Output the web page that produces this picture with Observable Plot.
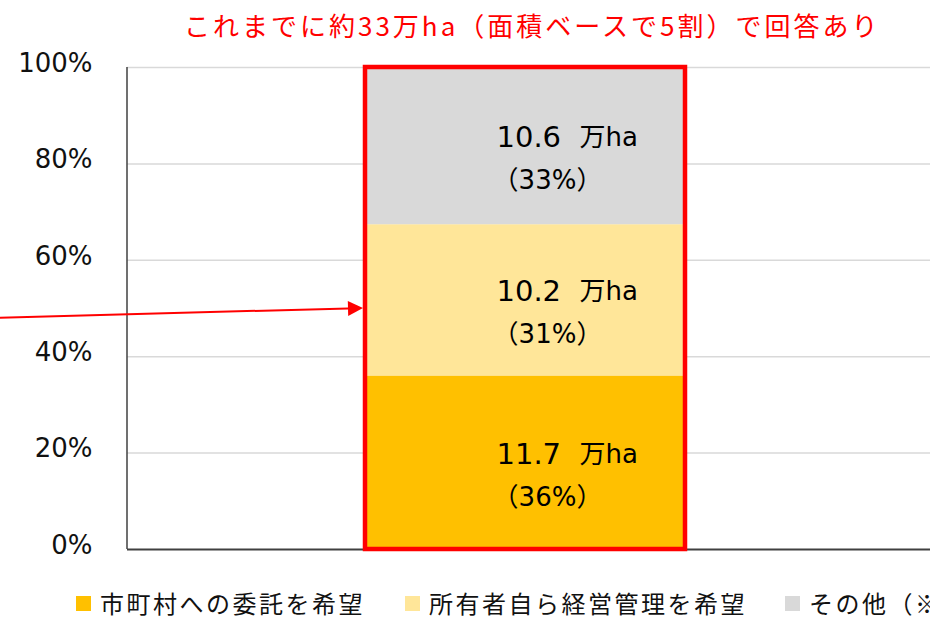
<!DOCTYPE html>
<html>
<head>
<meta charset="utf-8">
<script src="https://cdn.jsdelivr.net/npm/d3@7"></script>
<script src="https://cdn.jsdelivr.net/npm/@observablehq/plot@0.6"></script>
<style>
  html, body { margin: 0; padding: 0; background: #fff; }
  body { width: 930px; height: 621px; overflow: hidden; position: relative; }
  #title { position: absolute; left: 184px; top: 12px; font: 26px/1 "Noto Sans CJK JP", sans-serif; color: #FF0000; letter-spacing: 3px; white-space: nowrap; }
  #chart { position: absolute; left: 0; top: 0; }
  #legend { position: absolute; left: 0; top: 591px; width: 930px; height: 26px; white-space: nowrap; }
  .item { position: absolute; top: 0; font: 24px/1 "Noto Sans CJK JP", sans-serif; color: #111; letter-spacing: 2.5px; }
  .sw { position: absolute; top: 5px; width: 15px; height: 15px; }
  .item span.t { position: absolute; left: 24px; top: 0; }
</style>
</head>
<body>
<div id="title"></div>
<div id="chart"></div>
<div id="legend"></div>
<script>
// ---- data ----
const titleText = "これまでに約33万ha（面積ベースで5割）で回答あり";
const categories = ["市町村への委託を希望", "所有者自ら経営管理を希望", "その他（※）"];
const areas = [11.7, 10.2, 10.6];          // 万ha
const shares = ["36%", "31%", "33%"];
const colors = ["#FFC000", "#FFE699", "#D9D9D9"];
const barName = ["回答"];
const unitLabel = "万ha";
const yTicks = [0, 0.2, 0.4, 0.6, 0.8, 1];
const arrowY = [0.48, 0.5];               // arrow start / tip (share of total)
const legendLeft = [76, 405, 785];

const rows = categories.map((c, i) => ({bar: barName[0], cat: c, area: areas[i], share: shares[i]}));

document.getElementById("title").textContent = titleText;

const font = "'DejaVu Sans', 'Noto Sans CJK JP', sans-serif";

function annotations(index, scales, values, dimensions) {
  const g = d3.create("svg:g");
  const y = scales.y, x = scales.x;
  // left axis line
  g.append("line")
    .attr("x1", dimensions.marginLeft).attr("x2", dimensions.marginLeft)
    .attr("y1", y(1)).attr("y2", y(0))
    .attr("stroke", "#404040").attr("stroke-width", 1.5);
  // arrow
  const x0 = 0, y0 = y(arrowY[0]);
  const xt = x(barName[0]) - 2, yt = y(arrowY[1]);
  const ang = Math.atan2(yt - y0, xt - x0);
  const L = 15, W = 7.5;
  const bx = xt - L * Math.cos(ang), by = yt - L * Math.sin(ang);
  g.append("line").attr("x1", x0).attr("y1", y0).attr("x2", bx).attr("y2", by)
    .attr("stroke", "#FF0000").attr("stroke-width", 2);
  const px = -Math.sin(ang) * W, py = Math.cos(ang) * W;
  g.append("polygon")
    .attr("points", `${xt},${yt} ${bx + px},${by + py} ${bx - px},${by - py}`)
    .attr("fill", "#FF0000");
  return g.node();
}

const plot = Plot.plot({
  width: 930,
  height: 580,
  marginLeft: 127,
  marginRight: 0,
  marginTop: 67,
  marginBottom: 31,
  style: {fontFamily: font, background: "transparent"},
  x: {domain: barName, range: [127, 924], padding: 0.426, axis: null},
  y: {domain: [0, 1], axis: null},
  color: {domain: categories, range: colors},
  marks: [
    Plot.ruleY(yTicks.slice(1), {stroke: "#D9D9D9", strokeWidth: 1.5}),
    Plot.axisY({ticks: yTicks, tickFormat: d3.format(".0%"), tickSize: 0, tickPadding: 35,
      fontSize: 26, fill: "#111", dy: -4, label: null}),
    Plot.barY(rows, {x: "bar", y: "area", fill: "cat", offset: "normalize"}),
    Plot.ruleY([0], {stroke: "#404040", strokeWidth: 2}),
    Plot.barY(barName, {x: d => d, y: () => 1, fill: "none", stroke: "#FF0000", strokeWidth: 4.5}),
    Plot.text(rows, Plot.stackY({x: "bar", y: "area", offset: "normalize",
      text: d => d.area.toFixed(1), textAnchor: "start", lineAnchor: "bottom",
      dx: -29, dy: 1, fontSize: 29, fill: "#000"})),
    Plot.text(rows, Plot.stackY({x: "bar", y: "area", offset: "normalize",
      text: () => unitLabel, textAnchor: "start", lineAnchor: "bottom",
      dx: 54, dy: 0, fontSize: 26, fill: "#000"})),
    Plot.text(rows, Plot.stackY({x: "bar", y: "area", offset: "normalize",
      text: d => `（${d.share}）`, textAnchor: "middle", lineAnchor: "bottom",
      dx: 22, dy: 43, fontSize: 26, fill: "#000"})),
    annotations
  ]
});
document.getElementById("chart").appendChild(plot);

const legend = document.getElementById("legend");
categories.forEach((c, i) => {
  const it = document.createElement("div");
  it.className = "item";
  it.style.left = legendLeft[i] + "px";
  const sw = document.createElement("div");
  sw.className = "sw";
  sw.style.background = colors[i];
  const t = document.createElement("span");
  t.className = "t";
  t.textContent = c;
  it.appendChild(sw);
  it.appendChild(t);
  legend.appendChild(it);
});
</script>
</body>
</html>
